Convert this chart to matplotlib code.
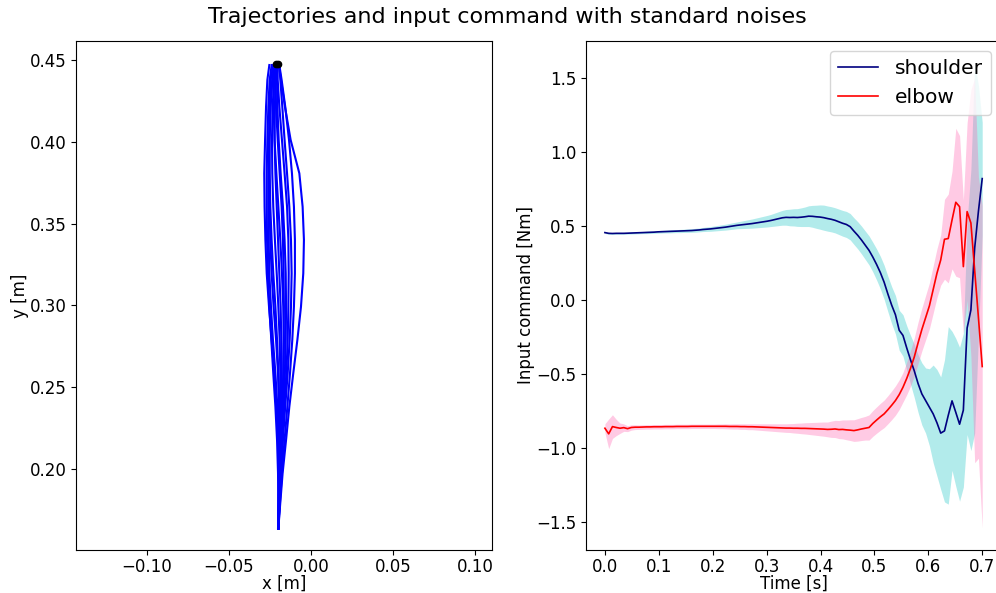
import matplotlib

matplotlib.use("Agg")
import matplotlib.pyplot as plt
import numpy as np

# ---- left panel: hand paths, lateral position (mm) at fixed heights y (m) ----
y_levels = [0.1637, 0.1770, 0.1974, 0.2177, 0.2381, 0.2585, 0.2789, 0.2992,
            0.3196, 0.3400, 0.3603, 0.3807, 0.4011, 0.4215, 0.4378, 0.4469]
traj_x_mm = [
    [-19.9, -18.9, -17.3, -15.2, -13.2, -10.8, -8.3, -6.1, -4.7, -4.3, -5.1, -7.1, -12.4, -15.9, -18.3, -19.5],
    [-19.9, -19.1, -17.7, -16.1, -14.4, -12.8, -11.4, -10.4, -9.8, -9.8, -10.4, -11.6, -13.4, -15.7, -17.9, -19.3],
    [-19.9, -19.3, -18.3, -17.1, -15.7, -14.2, -13.0, -12.2, -11.8, -12.2, -13.2, -14.6, -16.1, -17.5, -18.7, -19.3],
    [-19.7, -19.5, -19.5, -19.9, -20.9, -22.4, -24.0, -25.6, -27.0, -27.8, -28.3, -28.5, -28.0, -27.4, -26.6, -25.4],
    [-19.9, -19.9, -20.1, -20.7, -21.7, -23.0, -24.2, -25.4, -26.2, -26.8, -27.0, -27.0, -26.6, -26.0, -25.2, -24.0],
    [-19.9, -19.7, -19.5, -19.7, -20.5, -21.7, -23.2, -24.4, -25.4, -25.8, -26.0, -26.0, -25.6, -24.8, -23.6, -22.2],
    [-19.9, -19.7, -19.3, -18.9, -18.7, -18.7, -19.1, -19.9, -20.9, -22.0, -23.0, -23.6, -23.8, -23.4, -22.4, -20.9],
    [-19.9, -19.5, -19.1, -18.5, -18.1, -17.9, -18.1, -18.5, -19.3, -20.1, -20.9, -21.7, -22.2, -22.0, -21.5, -20.7],
    [-19.9, -19.3, -18.5, -17.5, -16.5, -15.9, -15.4, -15.2, -15.4, -16.1, -17.1, -18.5, -19.7, -20.5, -20.7, -20.3],
    [-19.9, -19.5, -18.9, -18.1, -17.3, -16.7, -16.5, -16.9, -17.7, -18.7, -19.9, -21.1, -22.2, -22.8, -22.6, -21.7],
    [-20.1, -19.9, -19.7, -19.5, -19.5, -19.9, -20.7, -21.7, -23.0, -24.0, -24.8, -25.2, -25.4, -25.4, -24.6, -23.0],
    [-19.9, -19.3, -18.5, -17.5, -16.3, -15.0, -14.2, -13.8, -13.6, -13.8, -14.6, -16.1, -17.7, -19.3, -20.3, -20.5],
    [-19.7, -19.5, -19.3, -19.1, -19.3, -20.1, -21.3, -22.8, -24.0, -24.8, -25.2, -25.4, -25.2, -24.6, -23.6, -22.2],
    [-19.9, -19.7, -19.1, -18.3, -17.5, -16.9, -16.7, -16.5, -16.7, -17.1, -17.9, -19.1, -20.3, -21.3, -21.7, -21.1],
]
target_x = [-0.0211, -0.0201]
target_y = [0.4475, 0.4475]

# ---- right panel: mean +/- std of the joint torques, dt = 7 ms ----
time = np.round(np.arange(101) * 0.007, 3)

shoulder_mean = [
    0.455, 0.450, 0.449, 0.450, 0.450, 0.450, 0.451, 0.452, 0.453, 0.454,
    0.455, 0.456, 0.457, 0.458, 0.460, 0.461, 0.462, 0.463, 0.464, 0.465,
    0.466, 0.467, 0.468, 0.469, 0.471, 0.473, 0.476, 0.478, 0.480, 0.483,
    0.486, 0.489, 0.492, 0.496, 0.500, 0.504, 0.507, 0.510, 0.513, 0.516,
    0.520, 0.524, 0.528, 0.532, 0.537, 0.543, 0.549, 0.555, 0.558, 0.557,
    0.558, 0.557, 0.559, 0.562, 0.566, 0.565, 0.562, 0.560, 0.556, 0.550,
    0.545, 0.538, 0.528, 0.518, 0.510, 0.495, 0.465, 0.437, 0.405, 0.370,
    0.335, 0.290, 0.240, 0.185, 0.120, 0.040, -0.035, -0.100, -0.205, -0.240,
    -0.325, -0.405, -0.480, -0.565, -0.635, -0.680, -0.725, -0.770, -0.830, -0.900,
    -0.885, -0.780, -0.682, -0.760, -0.840, -0.745, -0.190, -0.068, 0.350, 0.600,
    0.820,
]
shoulder_std = [
    0.006, 0.006, 0.006, 0.006, 0.006, 0.006, 0.006, 0.007, 0.007, 0.007,
    0.007, 0.008, 0.008, 0.008, 0.009, 0.009, 0.009, 0.010, 0.010, 0.010,
    0.011, 0.011, 0.012, 0.012, 0.013, 0.013, 0.014, 0.015, 0.016, 0.017,
    0.018, 0.019, 0.020, 0.021, 0.022, 0.023, 0.025, 0.027, 0.029, 0.031,
    0.033, 0.035, 0.037, 0.039, 0.041, 0.044, 0.047, 0.050, 0.053, 0.056,
    0.058, 0.060, 0.063, 0.066, 0.070, 0.074, 0.078, 0.082, 0.085, 0.085,
    0.085, 0.085, 0.086, 0.087, 0.088, 0.089, 0.090, 0.092, 0.094, 0.096,
    0.098, 0.100, 0.105, 0.110, 0.115, 0.120, 0.125, 0.130, 0.135, 0.140,
    0.150, 0.165, 0.180, 0.195, 0.210, 0.220, 0.260, 0.330, 0.360, 0.380,
    0.480, 0.600, 0.470, 0.500, 0.520, 0.520, 0.720, 0.950, 1.250, 0.850,
    0.380,
]
elbow_mean = [
    -0.867, -0.905, -0.856, -0.862, -0.867, -0.863, -0.870, -0.862, -0.860, -0.860,
    -0.859, -0.858, -0.858, -0.857, -0.857, -0.857, -0.856, -0.856, -0.856, -0.855,
    -0.855, -0.855, -0.855, -0.854, -0.854, -0.854, -0.854, -0.854, -0.854, -0.854,
    -0.854, -0.854, -0.854, -0.855, -0.855, -0.855, -0.856, -0.856, -0.857, -0.857,
    -0.858, -0.859, -0.860, -0.861, -0.862, -0.863, -0.864, -0.865, -0.866, -0.866,
    -0.867, -0.867, -0.868, -0.868, -0.869, -0.870, -0.871, -0.872, -0.873, -0.875,
    -0.874, -0.872, -0.876, -0.875, -0.878, -0.880, -0.883, -0.878, -0.872, -0.867,
    -0.862, -0.835, -0.812, -0.790, -0.770, -0.742, -0.712, -0.680, -0.640, -0.590,
    -0.530, -0.462, -0.385, -0.290, -0.200, -0.120, -0.040, 0.070, 0.180, 0.270,
    0.410, 0.415, 0.540, 0.660, 0.630, 0.225, 0.597, 0.520, 0.200, -0.120,
    -0.450,
]
elbow_std = [
    0.030, 0.100, 0.080, 0.055, 0.035, 0.025, 0.020, 0.018, 0.016, 0.015,
    0.015, 0.015, 0.015, 0.015, 0.015, 0.015, 0.015, 0.015, 0.015, 0.015,
    0.015, 0.015, 0.015, 0.015, 0.015, 0.015, 0.015, 0.015, 0.015, 0.015,
    0.016, 0.016, 0.017, 0.017, 0.018, 0.018, 0.019, 0.019, 0.020, 0.020,
    0.021, 0.022, 0.023, 0.024, 0.025, 0.026, 0.027, 0.028, 0.029, 0.030,
    0.032, 0.034, 0.036, 0.038, 0.040, 0.042, 0.044, 0.046, 0.048, 0.050,
    0.055, 0.058, 0.061, 0.064, 0.067, 0.070, 0.073, 0.076, 0.078, 0.080,
    0.085, 0.087, 0.089, 0.091, 0.093, 0.095, 0.097, 0.099, 0.100, 0.100,
    0.110, 0.120, 0.130, 0.140, 0.145, 0.150, 0.155, 0.160, 0.165, 0.170,
    0.270, 0.300, 0.330, 0.500, 0.480, 0.450, 0.600, 0.900, 1.300, 0.950,
    1.090,
]

plt.rcParams["font.size"] = 12

fig = plt.figure(figsize=(9.96, 5.93), dpi=100)
ax1 = fig.add_axes([0.0763, 0.0725, 0.4177, 0.8584])
ax2 = fig.add_axes([0.5884, 0.0725, 0.4167, 0.8584])
fig.suptitle("Trajectories and input command with standard noises",
             fontsize=16, x=0.509, y=0.988)

# trajectories
for xs in traj_x_mm:
    ax1.plot(np.array(xs) / 1000.0, y_levels, color="blue", lw=1.5)
ax1.plot(target_x, target_y, "o", color="black", ms=4.5)
ax1.set_xlim(-0.1433, 0.1104)
ax1.set_ylim(0.1505, 0.4616)
ax1.set_xticks([-0.10, -0.05, 0.00, 0.05, 0.10])
ax1.set_xlabel("x [m]", labelpad=-1.5)
ax1.set_ylabel("y [m]", labelpad=0.5)

# input commands
sm = np.array(shoulder_mean)
ss = np.array(shoulder_std)
em = np.array(elbow_mean)
es = np.array(elbow_std)
ax2.fill_between(time, sm - ss, sm + ss, color="c", alpha=0.3, lw=0)
ax2.fill_between(time, em - es, em + es, color="hotpink", alpha=0.35, lw=0)
ax2.plot(time, sm, color="navy", lw=1.2, label="shoulder")
ax2.plot(time, em, color="red", lw=1.2, label="elbow")
ax2.set_xlim(-0.035, 0.735)
ax2.set_ylim(-1.69, 1.75)
ax2.set_xlabel("Time [s]", labelpad=-1.5)
ax2.set_ylabel("Input command [Nm]", labelpad=0.5)
ax2.legend(loc="upper right", fontsize=14.6)

for ax in (ax1, ax2):
    ax.tick_params(axis="x", pad=2.5)

fig.savefig("out.png", dpi=100)
